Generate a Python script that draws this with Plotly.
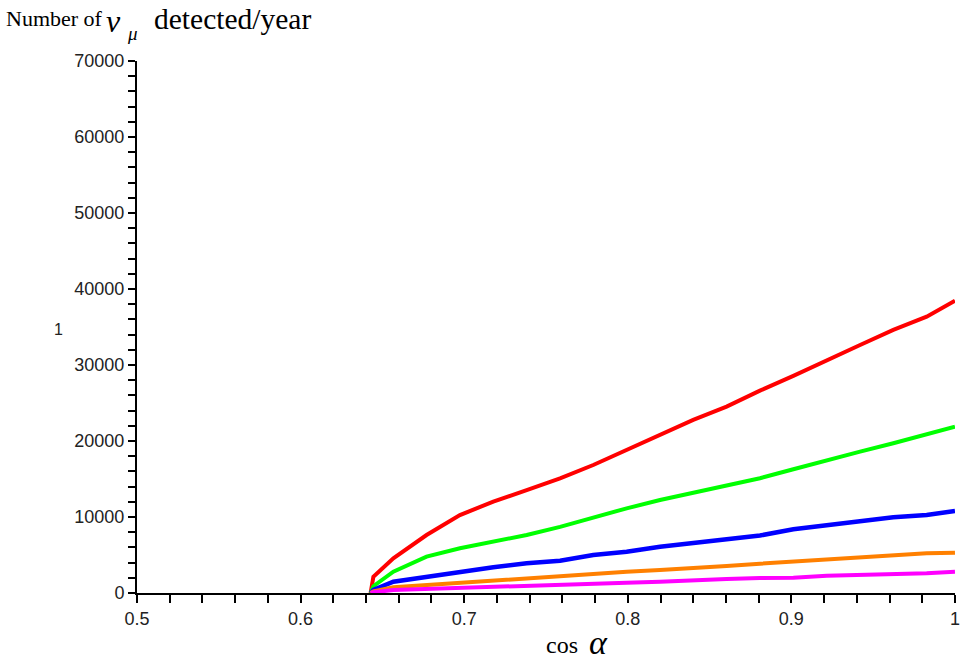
import plotly.graph_objects as go

# cos(alpha) sampling points shared by every curve
cos_alpha = [0.6428, 0.6445, 0.6567, 0.677, 0.6974, 0.7178, 0.7382, 0.7586, 0.7789, 0.7993,
             0.8197, 0.84, 0.8604, 0.8808, 0.9012, 0.9216, 0.942, 0.9623, 0.9827, 1.0]

# detected muon-neutrino counts per year, one list per curve
counts_red = [0, 2150, 4570, 7630, 10260, 12020, 13550, 15090, 16840, 18820,
              20790, 22770, 24520, 26620, 28560, 30660, 32640, 34610, 36360, 38470]
counts_green = [0, 900, 2800, 4780, 5880, 6750, 7630, 8700, 9950, 11140,
                12240, 13200, 14210, 15100, 16280, 17500, 18600, 19700, 20920, 21890]
counts_blue = [0, 400, 1490, 2150, 2800, 3380, 3900, 4250, 5000, 5440,
               6090, 6620, 7070, 7560, 8380, 8950, 9380, 9960, 10260, 10790]
counts_orange = [0, 200, 750, 1050, 1360, 1710, 1930, 2220, 2500, 2800,
                 3030, 3250, 3550, 3850, 4120, 4340, 4690, 5000, 5220, 5300]
counts_magenta = [0, 100, 390, 530, 750, 920, 1050, 1110, 1280, 1360,
                  1490, 1710, 1840, 1970, 2010, 2280, 2370, 2590, 2590, 2800]

x_ticks = [0.5, 0.6, 0.7, 0.8, 0.9, 1.0]
x_tick_text = ["0.5", "0.6", "0.7", "0.8", "0.9", "1"]
y_ticks = [0, 10000, 20000, 30000, 40000, 50000, 60000, 70000]
y_tick_text = ["0", "10000", "20000", "30000", "40000", "50000", "60000", "70000"]

W, H = 960, 662
L, R, T, B = 137, 5, 61, 69


def px(x):
    return (x - L) / (W - L - R)


def py(y):
    return (H - B - y) / (H - T - B)


fig = go.Figure()
series = [
    (counts_red, "#ff0000", 4),
    (counts_green, "#00ff00", 4),
    (counts_blue, "#0000ff", 4.5),
    (counts_orange, "#ff8000", 4),
    (counts_magenta, "#ff00ff", 4),
]
for ys, color, width in series:
    fig.add_trace(go.Scatter(x=cos_alpha, y=ys, mode="lines",
                             line=dict(color=color, width=width),
                             showlegend=False, hoverinfo="skip"))

tick_font = dict(family="Liberation Sans, Arial, sans-serif", size=18, color="#222222")

fig.update_xaxes(range=[0.5, 1.00002], showgrid=False, zeroline=False, automargin=False,
                 showline=True, linecolor="black", linewidth=2,
                 ticks="outside", ticklen=8, tickwidth=1.5, tickcolor="black",
                 tickvals=x_ticks, ticktext=x_tick_text, tickfont=tick_font,
                 minor=dict(dtick=0.02, tick0=0.5, ticks="outside", ticklen=8,
                            tickwidth=1.5, tickcolor="black", showgrid=False))
fig.update_yaxes(range=[0, 70000], showgrid=False, zeroline=False, automargin=False,
                 showline=True, linecolor="black", linewidth=2,
                 ticks="outside", ticklen=7, tickwidth=1.5, tickcolor="black",
                 tickvals=y_ticks, ticktext=y_tick_text, tickfont=tick_font,
                 minor=dict(dtick=2000, tick0=0, ticks="outside", ticklen=7,
                            tickwidth=1.5, tickcolor="black", showgrid=False))

serif = "Liberation Serif, Times New Roman, serif"
annotations = [
    dict(text="Number of", x=px(4), y=py(19), xanchor="left", yanchor="middle",
         font=dict(family=serif, size=22, color="black")),
    dict(text="<i>ν</i>", x=px(104), y=py(21), xanchor="left", yanchor="middle",
         font=dict(family=serif, size=32, color="black")),
    dict(text="<i>μ</i>", x=px(125), y=py(33), xanchor="left", yanchor="middle",
         font=dict(family=serif, size=19, color="black")),
    dict(text="detected/year", x=px(152), y=py(19), xanchor="left", yanchor="middle",
         font=dict(family=serif, size=29.5, color="black")),
    dict(text="cos", x=px(544), y=py(645), xanchor="left", yanchor="middle",
         font=dict(family=serif, size=24, color="black")),
    dict(text="<i>α</i>", x=px(587), y=py(642), xanchor="left", yanchor="middle",
         font=dict(family=serif, size=34, color="black")),
    dict(text="1", x=px(58), y=py(329), xanchor="center", yanchor="middle",
         font=dict(family="Liberation Sans, Arial, sans-serif", size=16, color="#222222")),
]
for a in annotations:
    a.update(xref="paper", yref="paper", showarrow=False)

fig.update_layout(width=W, height=H, margin=dict(l=L, r=R, t=T, b=B, autoexpand=False),
                  paper_bgcolor="white", plot_bgcolor="white",
                  annotations=annotations)

fig.write_html("out.html")
